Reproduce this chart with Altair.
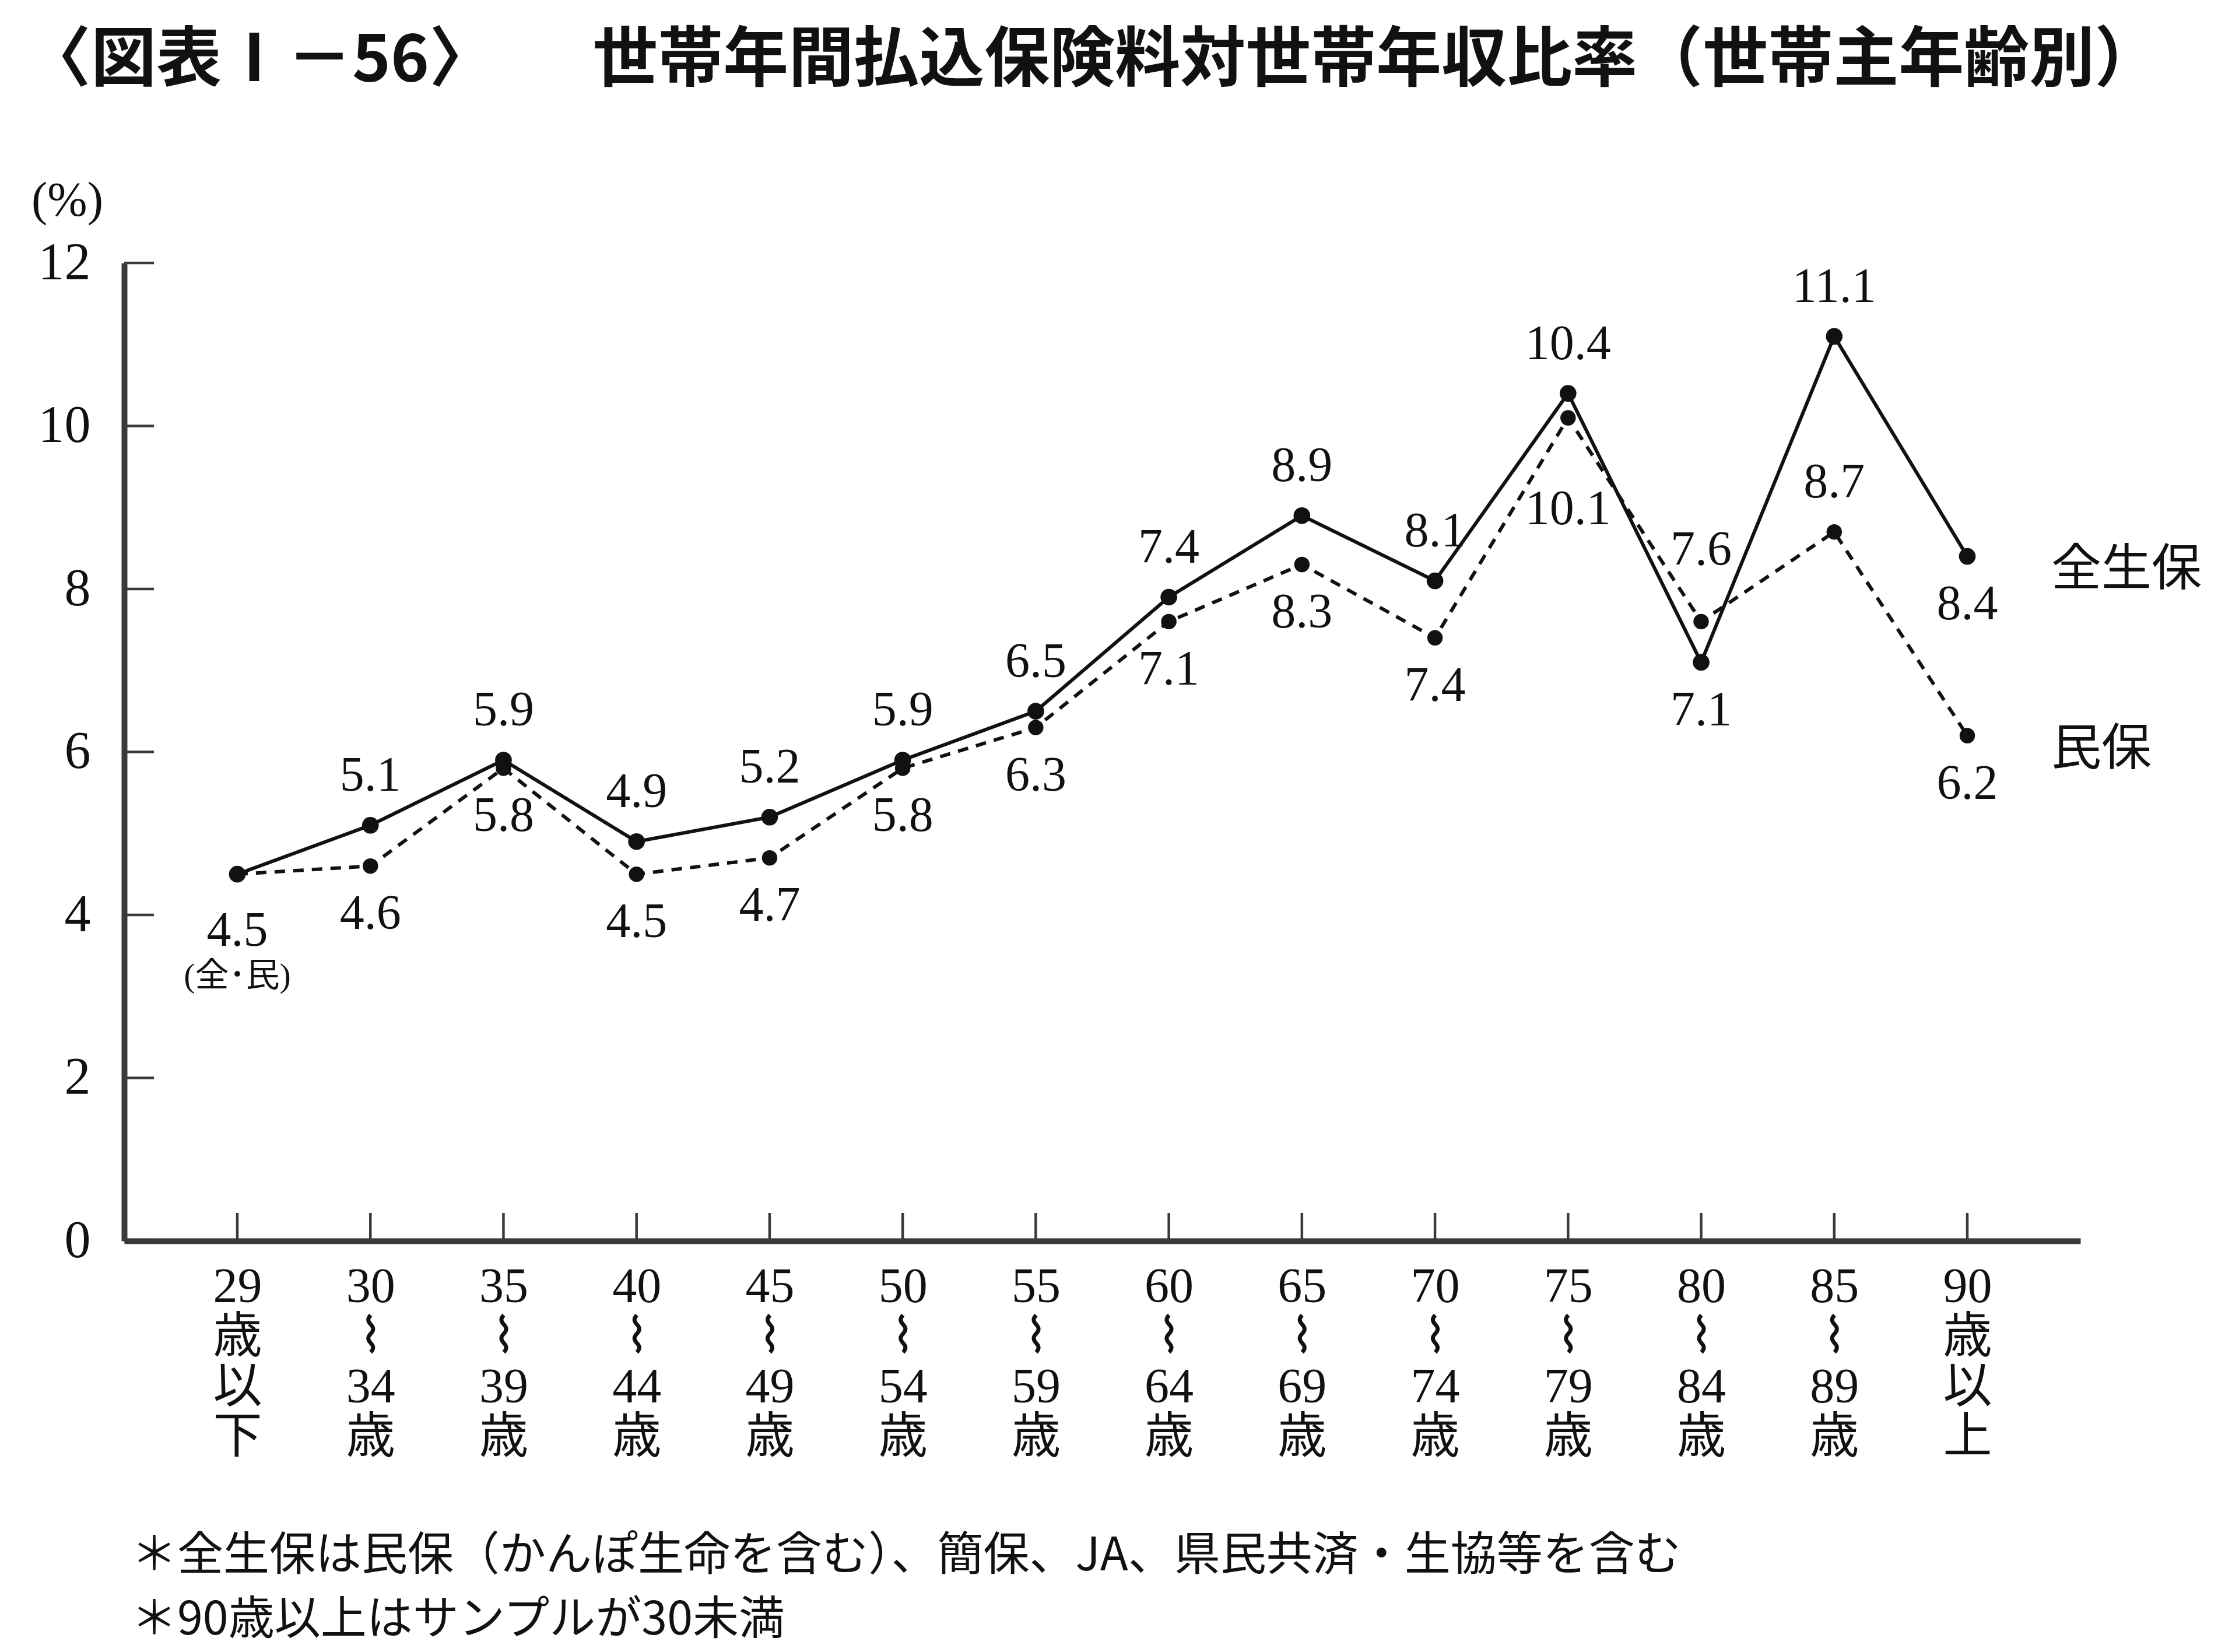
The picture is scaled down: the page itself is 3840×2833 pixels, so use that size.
import altair as alt
import pandas as pd

# ---------------- data ----------------
categories = ["29|歳|以|下", "30|⌇|34|歳", "35|⌇|39|歳", "40|⌇|44|歳", "45|⌇|49|歳",
              "50|⌇|54|歳", "55|⌇|59|歳", "60|⌇|64|歳", "65|⌇|69|歳", "70|⌇|74|歳",
              "75|⌇|79|歳", "80|⌇|84|歳", "85|⌇|89|歳", "90|歳|以|上"]
series_names = ["全生保", "民保"]
all_values = [4.5, 5.1, 5.9, 4.9, 5.2, 5.9, 6.5, 7.9, 8.9, 8.1, 10.4, 7.1, 11.1, 8.4]
min_values = [4.5, 4.6, 5.8, 4.5, 4.7, 5.8, 6.3, 7.6, 8.3, 7.4, 10.1, 7.6, 8.7, 6.2]
all_labels = ["4.5", "5.1", "5.9", "4.9", "5.2", "5.9", "6.5", "7.4", "8.9", "8.1", "10.4", "7.1", "11.1", "8.4"]
min_labels = ["", "4.6", "5.8", "4.5", "4.7", "5.8", "6.3", "7.1", "8.3", "7.4", "10.1", "7.6", "8.7", "6.2"]
all_place = ["b0", "a", "a", "a", "a", "a", "a", "a", "a", "a", "a", "b", "a", "b"]
min_place = ["", "b", "b", "b", "b", "b", "b", "b", "b", "b", "b2", "a2", "a", "b"]
first_note = "(全･民)"
y_ticks = [0, 2, 4, 6, 8, 10, 12]
title_text = "〈図表Ⅰ－56〉　　世帯年間払込保険料対世帯年収比率（世帯主年齢別）"
footnotes = ["＊全生保は民保（かんぽ生命を含む）、簡保、JA、県民共済・生協等を含む",
             "＊90歳以上はサンプルが30未満"]

# ---------------- tables ----------------
rows = []
for c, v, l, p in zip(categories, all_values, all_labels, all_place):
    rows.append({"cat": c, "series": series_names[0], "value": v, "label": l, "place": p})
for c, v, l, p in zip(categories, min_values, min_labels, min_place):
    rows.append({"cat": c, "series": series_names[1], "value": v, "label": l, "place": p})
df = pd.DataFrame(rows)
df_last = df[df["cat"] == categories[-1]]
df_note = pd.DataFrame([{"cat": categories[0], "value": all_values[0], "label": first_note}])
df_yt = pd.DataFrame({"t": y_ticks})
df_xt = pd.DataFrame({"cat": categories})
df_foot = pd.DataFrame([{"k": 0}])

W, H = 3355, 1677
SERIF = "Liberation Serif, DejaVu Sans, Noto Sans CJK JP, DejaVu Serif"
CJK = "Noto Sans CJK JP"
INK = "#111111"
AXIS = "#3a3a3a"

x_axis = alt.Axis(labelExpr="split(datum.label, '|')", labelAngle=0, ticks=False,
                  labelFont=SERIF, labelFontSize=84, labelLineHeight=86,
                  labelColor=INK, labelPadding=38, labelBaseline="top",
                  domainColor=AXIS, domainWidth=10, title=None, grid=False)
y_axis = alt.Axis(values=y_ticks, ticks=False, labelFont=SERIF, labelFontSize=90,
                  labelColor=INK, labelPadding=58, domainColor=AXIS, domainWidth=10,
                  grid=False, title="(%)", titleAngle=0, titleFont=SERIF, titleFontSize=82,
                  titleFontWeight="normal", titleColor=INK, titleX=-98, titleY=-108,
                  titleAlign="center", titleBaseline="middle")

X = alt.X("cat:N", sort=categories, scale=alt.Scale(type="point", padding=0.85), axis=x_axis)
Y = alt.Y("value:Q", scale=alt.Scale(domain=[0, 12], nice=False, zero=True), axis=y_axis)
color = alt.Color("series:N", scale=alt.Scale(domain=series_names, range=[INK, INK]), legend=None)
dash = alt.StrokeDash("series:N", scale=alt.Scale(domain=series_names, range=[[1, 0], [18, 14]]), legend=None)

ytick = alt.Chart(df_yt).mark_rule(color=AXIS, strokeWidth=4.5).encode(
    y=alt.Y("t:Q", scale=alt.Scale(domain=[0, 12], nice=False), axis=y_axis),
    x=alt.value(0), x2=alt.value(51))
xtick = alt.Chart(df_xt).mark_rule(color=AXIS, strokeWidth=4.5).encode(
    x=X, y=alt.value(H), y2=alt.value(H - 48))

lines = alt.Chart(df).mark_line(strokeWidth=6).encode(x=X, y=Y, color=color, strokeDash=dash)
pts_all = alt.Chart(df).transform_filter(alt.datum.series == series_names[0]).mark_point(
    filled=True, shape="circle", size=820, opacity=1, color=INK).encode(x=X, y=Y)
pts_min = alt.Chart(df).transform_filter(alt.datum.series == series_names[1]).mark_point(
    filled=True, shape="circle", size=700, opacity=1, color=INK).encode(x=X, y=Y)

offsets = {"a": -84, "b": 83, "b0": 98, "a2": -122, "b2": 157}
label_layers = []
for key, dy in offsets.items():
    label_layers.append(
        alt.Chart(df).transform_filter(alt.datum.place == key).mark_text(
            font=SERIF, fontSize=84, color=INK, dy=dy, baseline="middle", align="center"
        ).encode(x=X, y=Y, text="label:N"))

note = alt.Chart(df_note).mark_text(font=SERIF, fontSize=58, color=INK, dy=176,
                                    baseline="middle", align="center").encode(x=X, y=Y, text="label:N")

names = alt.Chart(df_last).mark_text(font=CJK, fontSize=86, color=INK, dx=144, dy=24,
                                     align="left", baseline="middle").encode(x=X, y=Y, text="series:N")

foot = alt.Chart(df_foot).mark_text(font=CJK, fontSize=79, color=INK, align="left",
                                    baseline="middle", lineHeight=110).encode(
    x=alt.value(12), y=alt.value(2218), text=alt.value(footnotes))

chart = alt.layer(ytick, xtick, lines, pts_all, pts_min, *label_layers, note, names, foot).properties(
    width=W, height=H,
    autosize=alt.AutoSizeParams(type="none"),
    padding={"left": 205, "top": 443, "right": 264, "bottom": 697},
    title=alt.Title(title_text, anchor="start", frame="group", dx=-169, offset=139,
                    font=CJK, fontSize=112, fontWeight="bold", color=INK),
).configure_view(stroke=None)

chart.save("out.html", embed_options={"renderer": "svg", "actions": False})
